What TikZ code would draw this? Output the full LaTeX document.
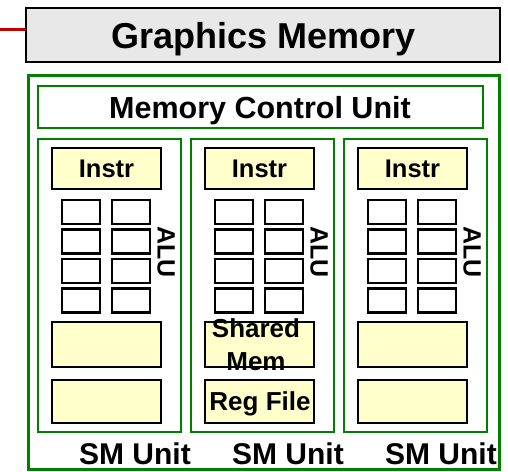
\documentclass[tikz,border=0pt]{standalone}
\usepackage{fontspec}
\setmainfont{Liberation Sans}
\definecolor{gfill}{RGB}{232,232,232}
\definecolor{dgreen}{RGB}{0,128,0}
\definecolor{yfill}{RGB}{255,255,204}
\definecolor{dred}{RGB}{192,0,0}
\begin{document}
\begin{tikzpicture}[x=1pt,y=-1pt,
  greenbox/.style={draw=dgreen,line width=2.2pt},
  ybox/.style={draw=black,fill=yfill,line width=2pt},
  alubox/.style={draw=black,fill=white,line width=2.2pt},
  lbl/.style={font=\bfseries\fontsize{#1}{#1}\selectfont,inner sep=0pt},
  smlbl/.style={lbl=30,anchor=base,text depth=0pt}]
\useasboundingbox (0,0) rectangle (508,471);
% Graphics memory
\draw[black,line width=2.8pt,fill=gfill] (26,8) rectangle (500,62);
\coordinate (gm) at (26,29);
\coordinate (redend) at (0,29);
\draw[dred,line width=3pt] (redend) -- (gm);
\node[lbl=36,anchor=base] (gmt) at (264,48) {Graphics Memory};
% outer green
\draw[dgreen,line width=3pt] (28,75) rectangle (499,469.5);
% memory control unit
\draw[greenbox] (38,86) rectangle (483,128);
\node[lbl=30.5,anchor=base] (mcu) at (260,118) {Memory Control Unit};
% SM units
\foreach \i/\dx in {1/0,2/153,3/306}{
  \begin{scope}[xshift=\dx]
    \draw[greenbox] (38,139) rectangle (181,432);
    \draw[ybox] (52,148) rectangle (161,189);
    \node[lbl=25.5,anchor=base] (instr\i) at (106.5,177) {Instr};
    \foreach \r/\y in {0/200,1/229.5,2/259,3/288.5}{
      \draw[alubox] (62,\y) rectangle (100,\y+24);
      \draw[alubox] (112,\y) rectangle (150,\y+24);
    }
    \node[lbl=25,rotate=-90] (alu\i) at (166,252) {ALU};
    \draw[ybox] (52,322) rectangle (161,367);
    \draw[ybox] (52,380) rectangle (161,423);
  \end{scope}
}
\node[lbl=26,anchor=base] (sh) at (256,337) {Shared};
\node[lbl=26,anchor=base] (mem) at (256,370) {Mem};
\node[lbl=26,anchor=base] (reg) at (260,410) {Reg File};
\node[smlbl] (sm1) at (135,464) {SM Unit};
\node[smlbl] (sm2) at (288,464) {SM Unit};
\node[smlbl] (sm3) at (441,464) {SM Unit};
\end{tikzpicture}
\end{document}
